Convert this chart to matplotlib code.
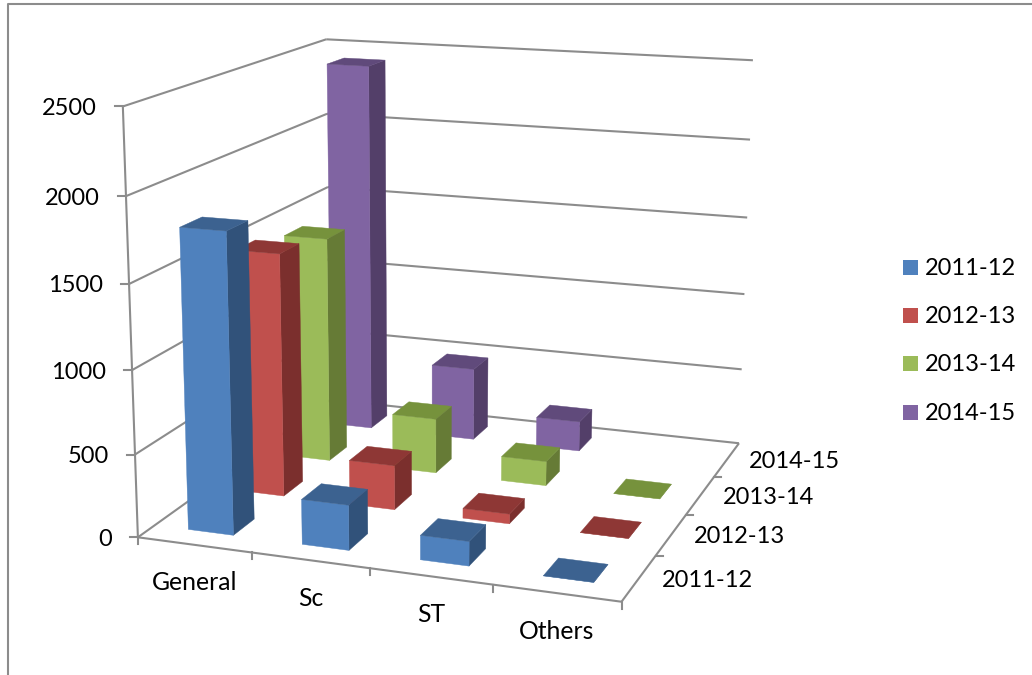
import matplotlib
matplotlib.use("Agg")
import matplotlib.pyplot as plt
import numpy as np

plt.rcParams['font.family'] = ['Lato', 'DejaVu Sans']

# Data
categories = ["General", "Sc", "ST", "Others"]
series_names = ["2011-12", "2012-13", "2013-14", "2014-15"]
values_2011 = [1795, 270, 145, 0]
values_2012 = [1505, 275, 60, 0]
values_2013 = [1440, 350, 155, 0]
values_2014 = [2415, 475, 195, None]
all_values = [values_2011, values_2012, values_2013, values_2014]
axis_ticks = [0, 500, 1000, 1500, 2000, 2500]

front_cols = ["#4F81BD", "#C0504D", "#9BBB59", "#8064A2"]
side_cols = ["#31527A", "#7B2F2D", "#667B36", "#533F69"]
top_cols = ["#3C6290", "#8E3735", "#76923C", "#604A7B"]
grid_col = "#8C8C8C"
bar_w = 0.4

# Corners of the chart room (category, series, value) -> pixel, used to fit the projection
room = [
    ((0, 0, 0), (139, 537)), ((4, 0, 0), (620, 602)),
    ((4, 4, 0), (738, 443)), ((0, 4, 0), (330, 400)),
    ((0, 0, 2500), (123, 106)),
    ((4, 4, 2500), (753, 61)), ((0, 4, 2500), (326, 39)),
    ((1, 0, 0), (252, 553)), ((2, 0, 0), (370, 568)), ((3, 0, 0), (492, 586)),
    ((4, 1, 0), (657, 555)), ((4, 2, 0), (687, 514)), ((4, 3, 0), (715, 477)),
]


def fit_projection(pairs):
    rows = []
    for (x, y, z), (u, v) in pairs:
        p = [x / 4, y / 4, z / 2500, 1]
        rows.append(p + [0, 0, 0, 0] + [-u * c for c in p])
        rows.append([0, 0, 0, 0] + p + [-v * c for c in p])
    return np.linalg.svd(np.array(rows, dtype=float))[2][-1].reshape(3, 4)


P = fit_projection(room)


def proj(x, y, z):
    a = P @ np.array([x / 4, y / 4, z / 2500, 1])
    return a[0] / a[2], a[1] / a[2]


def line3d(ax, a, b, lw=1.5):
    pa, pb = proj(*a), proj(*b)
    ax.plot([pa[0], pb[0]], [pa[1], pb[1]], color=grid_col, lw=lw, zorder=1,
            solid_capstyle='butt')


fig = plt.figure(figsize=(10.32, 6.75), dpi=100)
ax = fig.add_axes([0, 0, 1, 1])
ax.set_xlim(0, 1032)
ax.set_ylim(675, 0)
ax.axis('off')

# outer chart border, only left and top fall inside the crop
ax.plot([8, 8, 1032], [675, 4, 4], color=grid_col, lw=1.5, zorder=1)

# walls
for t in axis_ticks:
    line3d(ax, (0, 0, t), (0, 4, t))
    line3d(ax, (0, 4, t), (4, 4, t))
    px, py = proj(0, 0, t)
    ax.plot([px - 8, px], [py, py], color=grid_col, lw=1.5, zorder=1)
    ax.text(px - 26, py + 2, str(t), ha='right', va='center', fontsize=17, color='black')
line3d(ax, (0, 0, 0), (0, 0, 2500))
line3d(ax, (0, 0, 0), (4, 0, 0))
line3d(ax, (4, 0, 0), (4, 4, 0))

# category ticks and labels
for i in range(5):
    px, py = proj(i, 0, 0)
    ax.plot([px, px], [py, py + 7], color=grid_col, lw=1.5, zorder=1)
for i, name in enumerate(categories):
    px, py = proj(i + 0.5, 0, 0)
    ax.text(px, py + 38, name, ha='center', va='center', fontsize=17.8, color='black')

# series ticks and labels
for j in range(1, 4):
    px, py = proj(4, j, 0)
    ax.plot([px, px + 7], [py, py], color=grid_col, lw=1.5, zorder=1)
for j, name in enumerate(series_names):
    px, py = proj(4, j + 0.5, 0)
    ax.text(px + 68, py + 2, name, ha='center', va='center', fontsize=17, color='black')


# columns, back row first
def draw_bar(ax, i, j, val, z):
    x0, x1 = i + (1 - bar_w) / 2, i + (1 + bar_w) / 2
    y0, y1 = j + (1 - bar_w) / 2, j + (1 + bar_w) / 2
    front = [(x0, y0, 0), (x1, y0, 0), (x1, y0, val), (x0, y0, val)]
    side = [(x1, y0, 0), (x1, y1, 0), (x1, y1, val), (x1, y0, val)]
    top = [(x0, y0, val), (x1, y0, val), (x1, y1, val), (x0, y1, val)]
    for face, col in [(side, side_cols[j]), (front, front_cols[j]), (top, top_cols[j])]:
        ax.fill(*zip(*[proj(*c) for c in face]), color=col, lw=0.3, zorder=z)


z = 2
for j in range(3, -1, -1):
    for i in range(4):
        val = all_values[j][i]
        if val is None:
            continue
        draw_bar(ax, i, j, val, z)
        z += 1

# legend
for j, name in enumerate(series_names):
    y = 267.5 + j * 48.2
    ax.fill([903, 918, 918, 903], [y - 7.5, y - 7.5, y + 7.5, y + 7.5], color=front_cols[j], lw=0)
    ax.text(925, y + 1, name, ha='left', va='center', fontsize=17, color='black')

fig.savefig("out.png", dpi=100)
